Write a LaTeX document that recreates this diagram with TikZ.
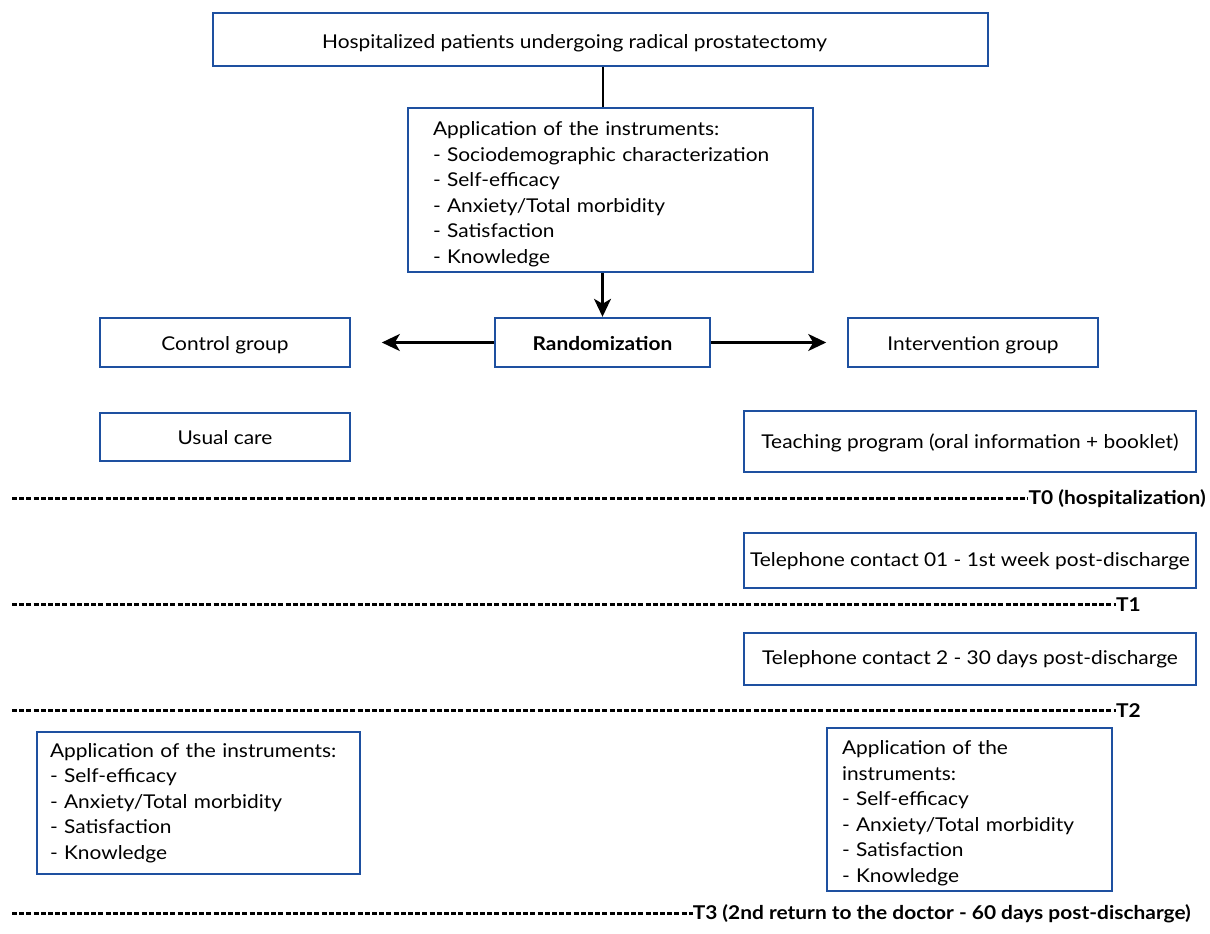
\documentclass[tikz,border=0pt]{standalone}
\usepackage{fontspec}
\setmainfont{Lato}[FakeStretch=1.1]
\usetikzlibrary{arrows.meta}
\definecolor{boxblue}{RGB}{30,80,160}
\newcommand{\lowertext}[2]{\raisebox{-#1}[\height][\depth]{#2}}
\begin{document}
\begin{tikzpicture}[x=1pt,y=-1pt,
  box/.style={draw=boxblue,line width=2.4pt,fill=white,inner sep=0pt,align=center,font=\fontsize{19}{25.5}\selectfont},
  listbox/.style={draw=boxblue,line width=2.4pt,fill=white,align=left,font=\fontsize{19}{25.5}\selectfont},
  conn/.style={line width=2.4pt,black},
  arr/.style={conn,-{Stealth[length=18pt,width=17pt,inset=5pt]}},
  dline/.style={line width=3pt,dash pattern=on 5pt off 2.2pt},
  tlabel/.style={font=\fontsize{19}{22}\bfseries\selectfont,inner sep=0pt,anchor=east}]
\useasboundingbox (0,0) rectangle (1210,934);
\fill[white] (0,0) rectangle (1210,934);

\node[box,minimum width=775,minimum height=53] (top) at (600.5,39.5) {\lowertext{4pt}{Hospitalized patients undergoing radical prostatectomy}\hspace*{52pt}};
\node[listbox,inner xsep=25pt,inner ysep=0pt,text width=355pt,minimum height=164] (inst) at (610.5,190)
 {\rule{0pt}{22pt}Application of the instruments:\\- Sociodemographic characterization\\- Self-efficacy\\- Anxiety/Total morbidity\\- Satisfaction\\- Knowledge};
\node[box,minimum width=215,minimum height=49,font=\fontsize{19}{25.5}\bfseries\selectfont] (rand) at (602.5,342.5) {\lowertext{1pt}{Randomization}};
\node[box,minimum width=250,minimum height=49] (ctrl) at (225,342.5) {\lowertext{3pt}{Control group}};
\node[box,minimum width=250,minimum height=49] (intv) at (973,342.5) {\lowertext{3pt}{Intervention group}};
\node[box,minimum width=250,minimum height=48] (usual) at (225,437) {\lowertext{1pt}{Usual care}};
\node[box,minimum width=452,minimum height=61] (teach) at (970,441.5) {\lowertext{1pt}{Teaching program (oral information + booklet)}};
\node[box,minimum width=452,minimum height=55] (tel1) at (970,560.5) {\lowertext{1pt}{Telephone contact 01 - 1st week post-discharge}};
\node[box,minimum width=452,minimum height=52] (tel2) at (970,659) {Telephone contact 2 - 30 days post-discharge};
\node[listbox,inner xsep=13pt,inner ysep=0pt,text width=297pt,minimum height=142] (instL) at (198.5,803)
 {Application of the instruments:\\- Self-efficacy\\- Anxiety/Total morbidity\\- Satisfaction\\- Knowledge};
\node[listbox,inner xsep=15pt,inner ysep=0pt,text width=255pt,minimum height=163] (instR) at (969.5,809.5)
 {\rule{0pt}{21pt}Application of the\\instruments:\\- Self-efficacy\\- Anxiety/Total morbidity\\- Satisfaction\\- Knowledge};

\draw[conn] (top.south -| inst.north) ++(-7.5,0) coordinate (a1) -- (a1 |- inst.north);
\draw[arr] (inst.south -| rand.north) -- (rand.north);
\draw[arr] (rand.west) -- ++(-112,0) coordinate (lt);
\draw[arr] (rand.east) -- ++(115,0) coordinate (rt);

\node[tlabel] (t0) at (1206,499) {T0 (hospitalization)};
\node[tlabel] (t1) at (1141,605) {T1};
\node[tlabel] (t2) at (1141,711) {T2};
\node[tlabel] (t3) at (1191,914) {T3 (2nd return to the doctor - 60 days post-discharge)};
\coordinate (s0) at (12,498);
\coordinate (s1) at (12,604);
\coordinate (s2) at (12,710);
\coordinate (s3) at (12,913);
\draw[dline] (s0) -- (s0 -| t0.west);
\draw[dline] (s1) -- (s1 -| t1.west);
\draw[dline] (s2) -- (s2 -| t2.west);
\draw[dline] (s3) -- (s3 -| t3.west);
\end{tikzpicture}
\end{document}
